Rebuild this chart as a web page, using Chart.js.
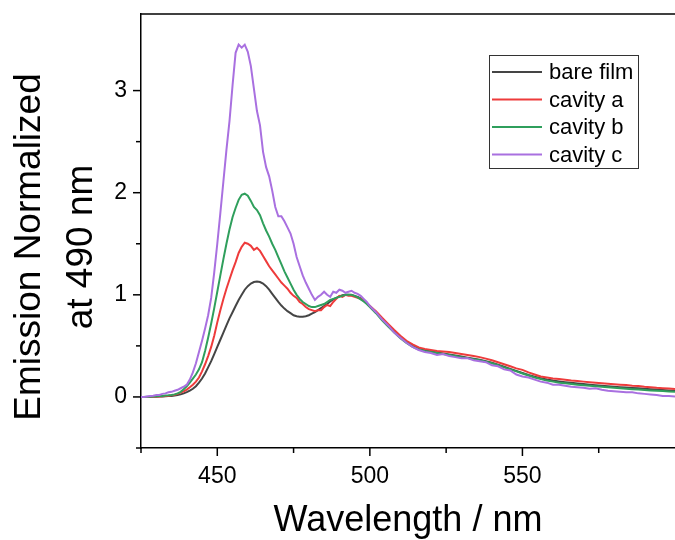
<!DOCTYPE html>
<html>
<head>
<meta charset="utf-8">
<script src="https://cdn.jsdelivr.net/npm/chart.js@4.4.1/dist/chart.umd.min.js"></script>
<style>
  html, body { margin: 0; padding: 0; background: #fff; }
  canvas { display: block; }
</style>
</head>
<body>
<canvas id="spectra" width="675" height="540"></canvas>
<script>
/* 발광 스펙트럼 (490 nm 정규화) */

const wavelength = [
  425, 426, 427, 428, 429, 430, 431, 432, 433, 434,
  435, 436, 437, 438, 439, 440, 441, 442, 443, 444,
  445, 446, 447, 448, 449, 450, 451, 452, 453, 454,
  455, 456, 457, 458, 459, 460, 461, 462, 463, 464,
  465, 466, 467, 468, 469, 470, 471, 472, 473, 474,
  475, 476, 477, 478, 479, 480, 481, 482, 483, 484,
  485, 486, 487, 488, 489, 490, 491, 492, 493, 494,
  495, 496, 497, 498, 499, 500,
  502, 504, 506, 508, 510, 512, 514, 516, 518, 520,
  522, 524, 526, 528, 530, 532, 534, 536, 538, 540,
  542, 544, 546, 548, 550, 552, 554, 556, 558, 560,
  562, 564, 566, 568, 570, 572, 574, 576, 578, 580,
  582, 584, 586, 588, 590, 592, 594, 596, 598, 600,
];

const bareFilm = [
  0, 0, 0, 0, 0.002, 0.003, 0.004, 0.005, 0.006, 0.008,
  0.01, 0.013, 0.018, 0.025, 0.035, 0.047, 0.062, 0.08, 0.105, 0.14,
  0.18, 0.23, 0.29, 0.35, 0.42, 0.49, 0.56, 0.63, 0.70, 0.77,
  0.83, 0.89, 0.95, 1.0, 1.05, 1.085, 1.11, 1.125, 1.13, 1.125,
  1.11, 1.085, 1.05, 1.01, 0.97, 0.93, 0.895, 0.865, 0.84, 0.82,
  0.80, 0.79, 0.785, 0.785, 0.79, 0.80, 0.815, 0.83, 0.85, 0.87,
  0.89, 0.91, 0.935, 0.955, 0.97, 0.985, 0.995, 1.0, 1.0, 0.998,
  0.99, 0.98, 0.965, 0.945, 0.92, 0.89,
  0.83, 0.765, 0.70, 0.64, 0.585, 0.54, 0.50, 0.47, 0.455, 0.445,
  0.435, 0.425, 0.415, 0.405, 0.395, 0.385, 0.375, 0.365, 0.35, 0.335,
  0.315, 0.295, 0.275, 0.255, 0.235, 0.215, 0.197, 0.183, 0.17, 0.16,
  0.152, 0.145, 0.138, 0.132, 0.126, 0.12, 0.115, 0.11, 0.105, 0.10,
  0.096, 0.092, 0.088, 0.084, 0.08, 0.076, 0.072, 0.068, 0.064, 0.06,
];

const cavityA = [
  0, 0, 0, 0.002, 0.003, 0.004, 0.005, 0.007, 0.009, 0.012,
  0.016, 0.021, 0.03, 0.042, 0.055, 0.072, 0.095, 0.12, 0.15, 0.19,
  0.25, 0.32, 0.40, 0.49, 0.60, 0.73, 0.85, 0.96, 1.06, 1.15,
  1.24, 1.32, 1.41, 1.47, 1.51, 1.50, 1.48, 1.44, 1.46, 1.43,
  1.38, 1.33, 1.28, 1.24, 1.20, 1.16, 1.12, 1.09, 1.06, 1.02,
  0.99, 0.97, 0.93, 0.91, 0.88, 0.86, 0.85, 0.84, 0.85, 0.85,
  0.88, 0.90, 0.89, 0.93, 0.96, 0.99, 0.98, 1.0, 0.99, 0.99,
  0.98, 0.97, 0.96, 0.94, 0.92, 0.89,
  0.84, 0.775, 0.715, 0.655, 0.60, 0.55, 0.515, 0.485, 0.47, 0.46,
  0.45, 0.445, 0.44, 0.43, 0.42, 0.41, 0.40, 0.39, 0.375, 0.36,
  0.34, 0.32, 0.30, 0.28, 0.265, 0.24, 0.22, 0.20, 0.19, 0.18,
  0.175, 0.168, 0.16, 0.156, 0.15, 0.145, 0.14, 0.135, 0.13, 0.125,
  0.12, 0.116, 0.11, 0.106, 0.10, 0.096, 0.09, 0.086, 0.082, 0.078,
];

const cavityB = [
  0, 0, 0.002, 0.003, 0.004, 0.006, 0.008, 0.01, 0.013, 0.016,
  0.02, 0.025, 0.035, 0.05, 0.075, 0.105, 0.14, 0.18, 0.22, 0.27,
  0.34, 0.45, 0.58, 0.72, 0.87, 1.03, 1.19, 1.35, 1.50, 1.64,
  1.76, 1.85, 1.93, 1.98, 1.99, 1.97, 1.92, 1.86, 1.83, 1.78,
  1.70, 1.63, 1.57, 1.50, 1.44, 1.37, 1.30, 1.23, 1.17, 1.11,
  1.05, 1.0, 0.96, 0.93, 0.91, 0.89, 0.88, 0.88, 0.89, 0.90,
  0.91, 0.93, 0.95, 0.96, 0.97, 0.98, 0.99, 1.0, 1.0, 1.0,
  0.99, 0.975, 0.955, 0.935, 0.91, 0.88,
  0.82, 0.75, 0.69, 0.63, 0.575, 0.53, 0.49, 0.465, 0.45, 0.44,
  0.43, 0.42, 0.41, 0.40, 0.39, 0.38, 0.37, 0.36, 0.345, 0.33,
  0.31, 0.29, 0.27, 0.25, 0.23, 0.21, 0.19, 0.175, 0.16, 0.15,
  0.14, 0.135, 0.127, 0.12, 0.115, 0.11, 0.105, 0.10, 0.095, 0.09,
  0.085, 0.08, 0.076, 0.072, 0.068, 0.064, 0.06, 0.057, 0.053, 0.05,
];

const cavityC = [
  0, 0, 0.005, 0.01, 0.012, 0.018, 0.02, 0.03, 0.035, 0.045,
  0.05, 0.06, 0.07, 0.085, 0.10, 0.12, 0.17, 0.24, 0.33, 0.44,
  0.55, 0.67, 0.80, 0.97, 1.22, 1.50, 1.80, 2.11, 2.42, 2.70,
  3.05, 3.37, 3.45, 3.42, 3.45, 3.38, 3.24, 3.02, 2.80, 2.66,
  2.40, 2.25, 2.16, 2.02, 1.86, 1.77, 1.77, 1.72, 1.66, 1.60,
  1.50, 1.37, 1.28, 1.19, 1.12, 1.06, 1.0, 0.95, 0.98, 1.0,
  1.03, 1.0, 0.98, 1.03, 1.02, 1.05, 1.04, 1.02, 1.03, 1.04,
  1.02, 1.01, 0.99, 0.96, 0.93, 0.89,
  0.83, 0.76, 0.70, 0.63, 0.58, 0.53, 0.49, 0.46, 0.44, 0.43,
  0.41, 0.42, 0.40, 0.39, 0.38, 0.38, 0.36, 0.35, 0.34, 0.31,
  0.30, 0.27, 0.26, 0.22, 0.20, 0.19, 0.17, 0.15, 0.14, 0.12,
  0.12, 0.11, 0.10, 0.095, 0.09, 0.08, 0.085, 0.07, 0.06, 0.055,
  0.05, 0.045, 0.045, 0.035, 0.03, 0.025, 0.02, 0.01, 0.008, 0.005,
];

const seriesNames = ['bare film', 'cavity a', 'cavity b', 'cavity c'];
const seriesColors = ['#454545', '#ee3b3b', '#2f9f5c', '#a970e0'];
const xTickLabels = [450, 500, 550];
const yTickLabels = [0, 1, 2, 3];

const FONT = '"Liberation Sans", Arial, sans-serif';

/* ── 축 프레임, 눈금, 제목, 범례 ── */
const frameAndLabels = {
  id: 'frameAndLabels',
  afterDraw(chart) {
    const { ctx, chartArea: area, scales } = chart;
    const xs = scales.x;
    const ys = scales.y;

    ctx.save();
    ctx.strokeStyle = '#000';
    ctx.lineWidth = 1.5;

    // 위쪽 테두리
    ctx.beginPath();
    ctx.moveTo(area.left, area.top);
    ctx.lineTo(area.right, area.top);
    ctx.stroke();

    // x 눈금 (바깥쪽)
    xs.ticks.forEach((t) => {
      if (t.value % 25 !== 0) return;
      const px = xs.getPixelForValue(t.value);
      if (px > area.right - 1) return;
      const len = t.value % 50 === 0 ? 8 : 5;
      ctx.beginPath();
      ctx.moveTo(px, area.bottom);
      ctx.lineTo(px, area.bottom + len);
      ctx.stroke();
    });

    // y 눈금 (바깥쪽)
    ys.ticks.forEach((t) => {
      if (Math.abs(t.value * 2 - Math.round(t.value * 2)) > 1e-6) return;
      const py = ys.getPixelForValue(t.value);
      const len = Number.isInteger(t.value) ? 8 : 5;
      ctx.beginPath();
      ctx.moveTo(area.left, py);
      ctx.lineTo(area.left - len, py);
      ctx.stroke();
    });

    // 축 제목
    ctx.fillStyle = '#000';
    ctx.font = `36px ${FONT}`;
    ctx.textAlign = 'center';
    ctx.textBaseline = 'alphabetic';
    ctx.fillText('Wavelength / nm', (area.left + area.right) / 2, 531);

    ctx.font = `37px ${FONT}`;
    const cy = 247;
    [['Emission Normalized', 40], ['at 490 nm', 92]].forEach(([text, bx]) => {
      ctx.save();
      ctx.translate(bx, cy);
      ctx.rotate(-Math.PI / 2);
      ctx.fillText(text, 0, 0);
      ctx.restore();
    });

    // 범례
    ctx.lineWidth = 1;
    ctx.strokeStyle = '#333';
    ctx.strokeRect(489.5, 55.5, 149, 113);
    ctx.font = `22px ${FONT}`;
    ctx.textAlign = 'left';
    ctx.textBaseline = 'middle';
    seriesNames.forEach((name, i) => {
      const ly = 72 + i * 27.5;
      ctx.strokeStyle = seriesColors[i];
      ctx.lineWidth = 2;
      ctx.beginPath();
      ctx.moveTo(492, ly);
      ctx.lineTo(542, ly);
      ctx.stroke();
      ctx.fillStyle = '#000';
      ctx.fillText(name, 549, ly + 1);
    });

    ctx.restore();
  },
};

const seriesData = [bareFilm, cavityA, cavityB, cavityC];

new Chart(document.getElementById('spectra'), {
  type: 'line',
  data: {
    datasets: seriesData.map((vals, i) => ({
      label: seriesNames[i],
      data: wavelength.map((w, j) => ({ x: w, y: vals[j] })),
      borderColor: seriesColors[i],
      borderWidth: 2,
      pointRadius: 0,
      tension: 0,
      fill: false,
      order: 3 - i,
    })),
  },
  options: {
    responsive: false,
    animation: false,
    devicePixelRatio: 1,
    layout: { padding: { top: 14, right: 0, bottom: 0, left: 0 } },
    plugins: {
      legend: { display: false },
      tooltip: { enabled: false },
    },
    scales: {
      x: {
        type: 'linear',
        min: 425,
        max: 600,
        afterFit(s) {
          s.height = 92;
          s.paddingLeft = 0;
          s.paddingRight = 0;
        },
        grid: { display: false, drawTicks: false },
        border: { display: true, color: '#000', width: 1.5 },
        ticks: {
          stepSize: 25,
          padding: 15,
          autoSkip: false,
          maxRotation: 0,
          color: '#000',
          font: { family: FONT, size: 23 },
          callback: (v) => (xTickLabels.includes(v) ? String(v) : ''),
        },
      },
      y: {
        type: 'linear',
        min: -0.5,
        max: 3.75,
        afterFit(s) {
          s.width = 141;
          s.paddingTop = 0;
          s.paddingBottom = 0;
        },
        grid: { display: false, drawTicks: false },
        border: { display: true, color: '#000', width: 1.5 },
        ticks: {
          stepSize: 0.5,
          padding: 14,
          autoSkip: false,
          color: '#000',
          font: { family: FONT, size: 23 },
          callback: (v) => (yTickLabels.includes(v) ? String(v) : ''),
        },
      },
    },
  },
  plugins: [frameAndLabels],
});
</script>
</body>
</html>
